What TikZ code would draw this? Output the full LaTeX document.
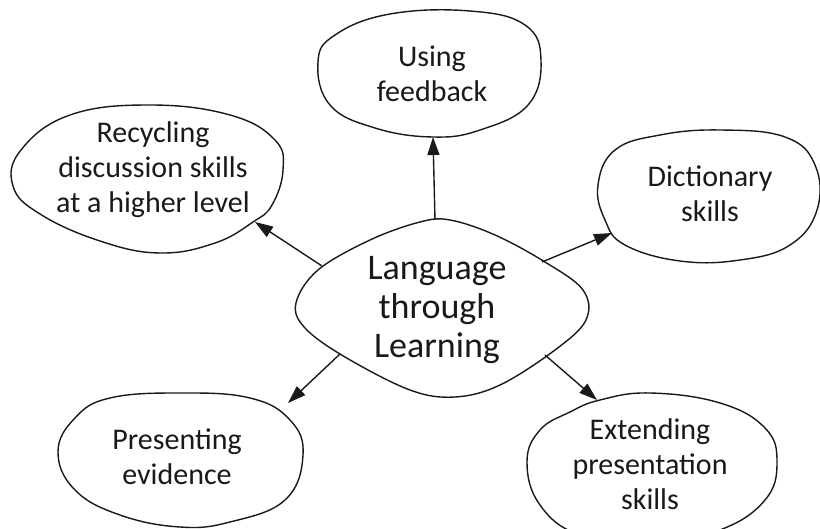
\documentclass[tikz,border=0pt]{standalone}
\usepackage{fontspec}
\setmainfont{Carlito}
\usetikzlibrary{arrows.meta}
\begin{document}
\begin{tikzpicture}[x=1pt,y=-1pt,
  blob/.style={draw=black!90, line width=1.4pt},
  arr/.style={draw=black!90, line width=1.4pt, -{Triangle[length=18pt,width=12pt]}},
  lbl/.style={align=center, font=\fontsize{30}{35}\selectfont, text=black!90},
  clbl/.style={align=center, font=\fontsize{36}{39}\selectfont, text=black!90}]
\useasboundingbox (0,0) rectangle (820,529);
% blobs
\draw[blob] plot[smooth cycle, tension=0.7] coordinates {(318,62) (335,35) (390,14) (470,11) (525,25) (541,60) (528,105) (480,130) (433,137) (375,128) (330,105)};
\draw[blob] plot[smooth cycle, tension=0.7] coordinates {(13,186) (21,150) (70,115) (150,105) (230,115) (275,140) (283,170) (272,205) (253,222) (215,243) (160,253) (100,241) (40,214)};
\draw[blob] plot[smooth cycle, tension=0.6] coordinates {(296,303) (318,270) (370,240) (420,222) (450,220) (495,235) (545,262) (583,290) (586,320) (555,350) (500,385) (455,397) (410,390) (345,357) (305,328)};
\draw[blob] plot[smooth cycle, tension=0.7] coordinates {(598,185) (615,150) (660,135) (720,130) (785,137) (815,165) (817,210) (790,245) (740,260) (680,261) (625,245) (605,220)};
\draw[blob] plot[smooth cycle, tension=0.7] coordinates {(58,452) (75,418) (110,398) (180,393) (250,398) (290,420) (303,455) (285,500) (230,522) (180,527) (120,515) (75,490)};
\draw[blob] plot[smooth cycle, tension=0.7] coordinates {(527,462) (540,430) (570,412) (600,400) (650,393) (720,403) (765,428) (777,462) (765,500) (720,530) (650,545) (580,535) (540,505)};
% labels
\node[clbl] (center) at (437,310) {Language\\through\\Learning};
\node[lbl] (feedback) at (432,74) {Using\\feedback};
\node[lbl] (recycling) at (153,170) {Recycling\\discussion skills\\at a higher level};
\node[lbl] (dictionary) at (710,194) {Dictionary\\skills};
\node[lbl] (presenting) at (177,457) {Presenting\\evidence};
\node[lbl] (extending) at (650,464) {Extending\\presentation\\skills};
% connector ends on blob outlines
\coordinate (c-n) at (435,220);
\coordinate (c-nw) at (322,266);
\coordinate (c-ne) at (542,262);
\coordinate (c-sw) at (340,354);
\coordinate (c-se) at (545,355);
\coordinate (f-s) at (433,137);
\coordinate (r-se) at (255,222);
\coordinate (d-sw) at (612,233);
\coordinate (p-ne) at (288,403);
\coordinate (e-nw) at (597,400);
\draw[arr] (c-n) -- (f-s);
\draw[arr] (c-nw) -- (r-se);
\draw[arr] (c-ne) -- (d-sw);
\draw[arr] (c-sw) -- (p-ne);
\draw[arr] (c-se) -- (e-nw);
\end{tikzpicture}
\end{document}
